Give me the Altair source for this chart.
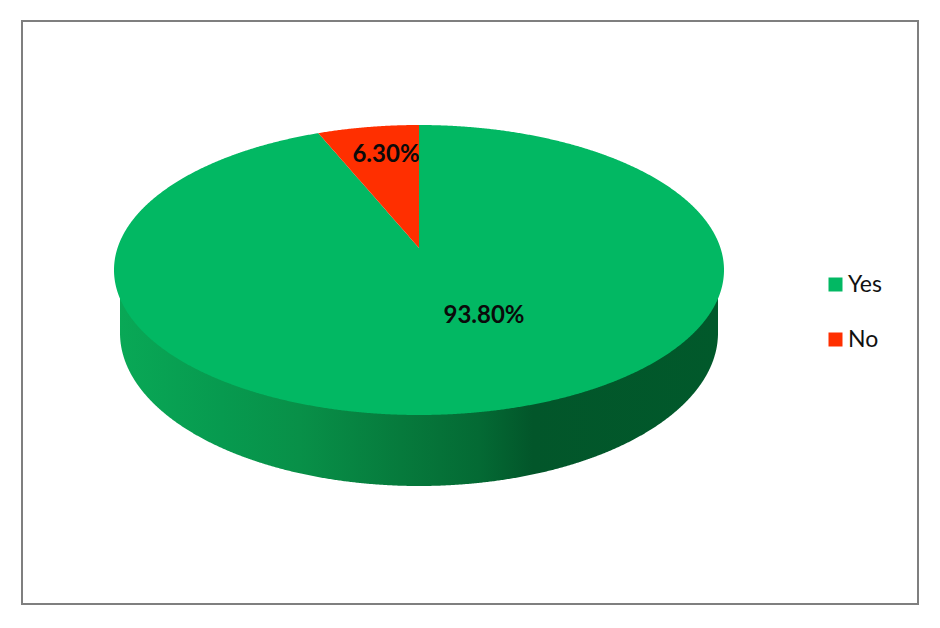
import numpy as np
import pandas as pd
import altair as alt

categories = ["Yes", "No"]
shares = [93.8, 6.3]
label_text = ["93.80%", "6.30%"]
label_x = [484, 386]
label_y = [316, 155]
colors = ["#02B863", "#FF2F00"]

# picture geometry of the tilted pie, in image pixels
CX, CY, RX, RY = 419.0, 270.0, 305.0, 145.0
APEX_Y = 248.0
SIDE_CY, SIDE_RX, SIDE_RY = 333.0, 299.0, 153.0
TILT = 0.85  # foreshortening of the slice angle by the tilted view

theta = np.radians(shares[1] * 3.6 * TILT)
wedge_x = CX - RX * np.sin(theta)
wedge_y = CY - RY * np.cos(theta)


def top_edge(x):
    return CY - RY * np.sqrt(np.clip(1 - ((x - CX) / RX) ** 2, 0, 1))


def bottom_edge(x):
    return CY + RY * np.sqrt(np.clip(1 - ((x - CX) / RX) ** 2, 0, 1))


def cut_edge(x):
    return APEX_Y + (wedge_y - APEX_Y) * (CX - x) / (CX - wedge_x)


xs = np.unique(np.concatenate([
    CX - RX * np.cos(np.linspace(0, np.pi, 721)),
    [wedge_x, CX - 0.01, CX],
]))

yes_top = top_edge(xs)
notch = (xs >= wedge_x) & (xs < CX)
yes_top[notch] = cut_edge(xs[notch])
yes_df = pd.DataFrame({"x": xs, "y": yes_top, "y2": bottom_edge(xs), "c": categories[0]})

wx = xs[notch]
no_df = pd.DataFrame({"x": wx, "y": top_edge(wx), "y2": cut_edge(wx), "c": categories[1]})

sx = SIDE_RX * -np.cos(np.linspace(0, np.pi, 721)) + CX
side_df = pd.DataFrame({
    "x": sx,
    "y": np.full_like(sx, CY),
    "y2": SIDE_CY + SIDE_RY * np.sqrt(np.clip(1 - ((sx - CX) / SIDE_RX) ** 2, 0, 1)),
})

label_df = pd.DataFrame({"x": label_x, "y": label_y, "t": label_text})

x_enc = alt.X("x:Q", axis=None, scale=alt.Scale(domain=[22, 918]))
y_enc = alt.Y("y:Q", axis=None, scale=alt.Scale(domain=[604, 21]))

side = alt.Chart(side_df).mark_area(
    color=alt.Gradient(
        gradient="linear", x1=0, x2=1, y1=0, y2=0,
        stops=[
            alt.GradientStop(offset=0.0, color="#09A856"),
            alt.GradientStop(offset=0.17, color="#079A4F"),
            alt.GradientStop(offset=0.30, color="#089048"),
            alt.GradientStop(offset=0.47, color="#067A3C"),
            alt.GradientStop(offset=0.60, color="#046A34"),
            alt.GradientStop(offset=0.69, color="#02562A"),
            alt.GradientStop(offset=1.0, color="#01592B"),
        ],
    )
).encode(x=x_enc, y=y_enc, y2="y2:Q")

color_enc = alt.Color(
    "c:N",
    scale=alt.Scale(domain=categories, range=colors),
    legend=alt.Legend(
        title=None, orient="none", legendX=802, legendY=252,
        symbolType="square", symbolSize=196, symbolStrokeWidth=0,
        labelFont="Lato", labelFontSize=23, labelColor="#111111",
        labelOffset=1, rowPadding=31, padding=0,
    ),
)

yes = alt.Chart(yes_df).mark_area().encode(x=x_enc, y=y_enc, y2="y2:Q", color=color_enc)
no = alt.Chart(no_df).mark_area().encode(x=x_enc, y=y_enc, y2="y2:Q", color=color_enc)

labels = alt.Chart(label_df).mark_text(
    font="Lato", fontWeight="bold", fontSize=24, color="#0A0A0A", align="center", baseline="middle"
).encode(x=x_enc, y=y_enc, text="t:N")

chart = (
    alt.layer(side, yes, no, labels)
    .properties(
        width=896, height=583,
        padding={"left": 14, "top": 13, "right": 8, "bottom": 8},
        autosize=alt.AutoSizeParams(type="none"),
        background="white",
    )
    .configure_view(stroke="#7F7F7F", strokeWidth=2)
)

chart.save("out.html", embed_options={"renderer": "svg", "actions": False})
